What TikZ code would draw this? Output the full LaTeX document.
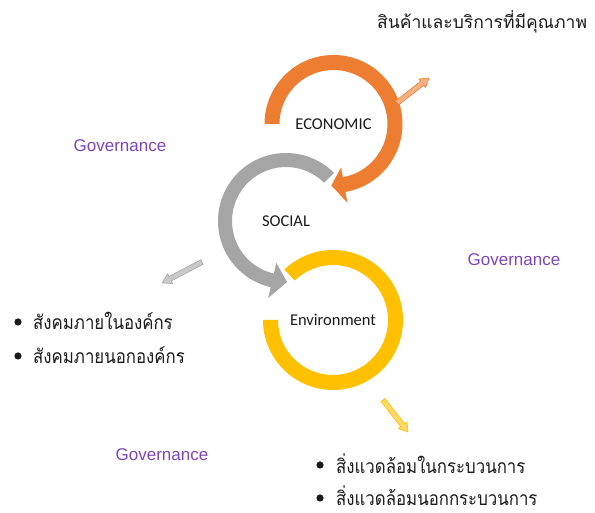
\documentclass[tikz,border=0pt]{standalone}
\usepackage{fontspec}
\setmainfont{Liberation Sans}
\newfontfamily\thai[Script=Thai]{Loma}
\newfontfamily\cali{Carlito}
\usetikzlibrary{calc}
\definecolor{ecoc}{HTML}{ED7D31}
\definecolor{socc}{HTML}{A5A5A5}
\definecolor{envc}{HTML}{FFC000}
\definecolor{ecol}{HTML}{F4B183}
\definecolor{socl}{HTML}{C9C9C9}
\definecolor{envl}{HTML}{FFD966}
\definecolor{govc}{HTML}{7C46B8}
\definecolor{txtc}{HTML}{1A1A1A}
\newcommand{\tallthai}[1]{\scalebox{1}[1.15]{#1}}
\begin{document}
\begin{tikzpicture}[x=1pt,y=1pt,
  ringlabel/.style={font=\cali\fontsize{16.5}{16.5}\selectfont, text=txtc, inner sep=0pt},
  gov/.style={font=\fontsize{17}{17}\selectfont, text=govc, inner sep=0pt},
  thaitop/.style={font=\thai\fontsize{17.5}{17.5}\selectfont, text=txtc, inner sep=0pt, anchor=west},
  thaiitem/.style={font=\thai\fontsize{16.8}{16.8}\selectfont, text=txtc, inner sep=0pt, anchor=west},
  blockarr/.style={line width=0.6pt, line join=miter}
]
\useasboundingbox (0,0) rectangle (595,513);
% ring labels (centres of the rings)
\node[ringlabel] (eco) at (333.5,389) {ECONOMIC};
\node[ringlabel] (soc) at (286,292) {SOCIAL};
\node[ringlabel] (env) at (333,193) {Environment};
% economic ring (orange), clockwise from the left
\fill[ecoc] ($(eco.center)+(180:69pt)$) arc[start angle=180,end angle=-80,radius=69pt]
  -- ($(eco.center)+(-80:80pt)$) -- ($(eco.center)+(-92:61.5pt)$) -- ($(eco.center)+(-80:44pt)$)
  -- ($(eco.center)+(-80:54pt)$) arc[start angle=-80,end angle=180,radius=54pt] -- cycle;
% social ring (grey), anticlockwise from top right
\fill[socc] ($(soc.center)+(45:68pt)$) arc[start angle=45,end angle=257,radius=68pt]
  -- ($(soc.center)+(257:79pt)$) -- ($(soc.center)+(271:61pt)$) -- ($(soc.center)+(257:43pt)$)
  -- ($(soc.center)+(257:54pt)$) arc[start angle=257,end angle=45,radius=54pt] -- cycle;
% environment ring (yellow)
\fill[envc] ($(env.center)+(134:70pt)$) arc[start angle=134,end angle=-180,radius=70pt]
  -- ($(env.center)+(180:55pt)$) arc[start angle=-180,end angle=134,radius=55pt] -- cycle;
% small block arrows
\begin{scope}[shift={(397,410)}, rotate=38]
  \filldraw[blockarr, fill=ecol, draw=ecoc] (0,-2.5) -- (32,-2.5) -- (32,-5.5) -- (40.6,0) -- (32,5.5) -- (32,2.5) -- (0,2.5) -- cycle;
\end{scope}
\begin{scope}[shift={(202,251)}, rotate=207.7]
  \filldraw[blockarr, fill=socl, draw=socc] (0,-2.5) -- (36,-2.5) -- (36,-5.5) -- (45,0) -- (36,5.5) -- (36,2.5) -- (0,2.5) -- cycle;
\end{scope}
\begin{scope}[shift={(383,113)}, rotate=-52]
  \filldraw[blockarr, fill=envl, draw=envc] (0,-2.5) -- (32,-2.5) -- (32,-5.5) -- (40.6,0) -- (32,5.5) -- (32,2.5) -- (0,2.5) -- cycle;
\end{scope}
% texts
\node[thaitop] (quality) at (377,491) {สินค้าและบริการที่มีคุณภาพ};
\node[gov] (g1) at (120,367) {Governance};
\node[gov] (g2) at (514,253) {Governance};
\node[gov] (g3) at (162,58) {Governance};
\fill[txtc] (18,191) circle[radius=3.6pt];
\fill[txtc] (18,157) circle[radius=3.6pt];
\fill[txtc] (320,48) circle[radius=3.6pt];
\fill[txtc] (320,15) circle[radius=3.6pt];
\node[thaiitem] (s1) at (33,192) {\tallthai{สังคมภายในองค์กร}};
\node[thaiitem] (s2) at (33,158) {\tallthai{สังคมภายนอกองค์กร}};
\node[thaiitem] (e1) at (336,49) {\tallthai{สิ่งแวดล้อมในกระบวนการ}};
\node[thaiitem] (e2) at (336,17) {\tallthai{สิ่งแวดล้อมนอกกระบวนการ}};
\end{tikzpicture}
\end{document}
